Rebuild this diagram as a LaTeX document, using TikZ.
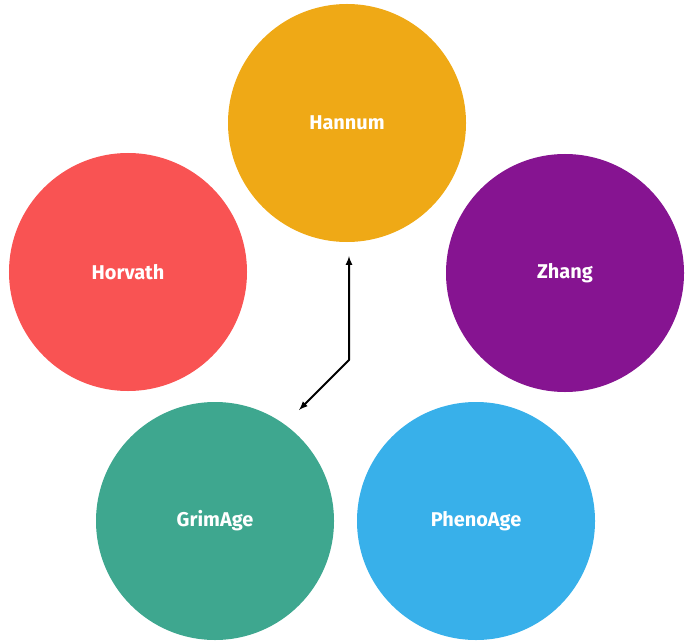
\documentclass[tikz,border=0pt]{standalone}
\usepackage{fontspec}
\setmainfont{Fira Sans}
\definecolor{hannumcol}{HTML}{EFA916}
\definecolor{horvathcol}{HTML}{F95353}
\definecolor{zhangcol}{HTML}{861491}
\definecolor{grimcol}{HTML}{3EA78F}
\definecolor{phenocol}{HTML}{38B0EA}
\begin{document}
\begin{tikzpicture}[>=latex,line join=bevel,x=1bp,y=-1bp,
  clock/.style={circle,minimum size=238bp,inner sep=0pt,text=white,font=\fontsize{20}{24}\selectfont\bfseries}]
  \useasboundingbox (0,0) rectangle (696,643);
  % Clocks
  \node [clock,fill=hannumcol] (hannum) at (347,123) {Hannum};
  \node [clock,fill=horvathcol] (horvath) at (128,272) {Horvath};
  \node [clock,fill=zhangcol] (zhang) at (565,273) {Zhang};
  \node [clock,fill=grimcol] (grim) at (215,521) {GrimAge};
  \node [clock,fill=phenocol] (pheno) at (476,521) {PhenoAge};
  % Link
  \coordinate (bend) at (349,360);
  \draw [<->,line width=2bp] (349,256) -- (bend) -- (299,410);
\end{tikzpicture}
\end{document}
